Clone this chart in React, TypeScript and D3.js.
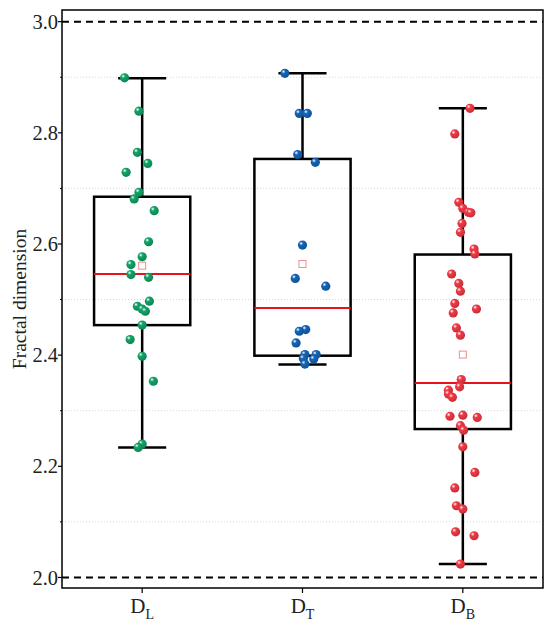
import React from 'react';
import * as d3 from 'd3';

// categories and colours
const categories = ['L', 'T', 'B'];
const dotColors = ['#12a468', '#1466b8', '#f23a46'];

// box statistics
const whiskerHigh = [2.898, 2.907, 2.844];
const q3 = [2.685, 2.753, 2.581];
const median = [2.546, 2.485, 2.350];
const mean = [2.561, 2.564, 2.401];
const q1 = [2.454, 2.399, 2.267];
const whiskerLow = [2.234, 2.383, 2.024];

// raw points (value + jitter as a fraction of the category step)
const valuesL = [2.899, 2.839, 2.765, 2.745, 2.729, 2.693, 2.681, 2.660, 2.604, 2.577, 2.563, 2.545,
  2.540, 2.497, 2.488, 2.483, 2.479, 2.454, 2.428, 2.398, 2.353, 2.240, 2.234];
const jitterL = [-0.11, -0.02, -0.03, 0.035, -0.10, -0.02, -0.05, 0.075, 0.04, 0, -0.07, -0.07,
  0.04, 0.045, -0.03, 0, 0.02, 0, -0.075, 0, 0.07, 0, -0.025];

const valuesT = [2.907, 2.835, 2.835, 2.761, 2.747, 2.598, 2.538, 2.524, 2.446, 2.443, 2.422, 2.401,
  2.401, 2.394, 2.393, 2.384];
const jitterT = [-0.11, -0.02, 0.03, -0.03, 0.08, 0, -0.045, 0.145, 0.02, -0.02, -0.04, 0.015,
  0.085, 0.005, 0.07, 0.015];

const valuesB = [2.844, 2.798, 2.675, 2.664, 2.657, 2.656, 2.637, 2.621, 2.591, 2.582, 2.546, 2.529,
  2.515, 2.493, 2.483, 2.476, 2.449, 2.436, 2.356, 2.343, 2.337, 2.330, 2.324, 2.292, 2.290, 2.288,
  2.273, 2.265, 2.235, 2.189, 2.161, 2.129, 2.123, 2.082, 2.075, 2.024];
const jitterB = [0.045, -0.05, -0.025, 0, 0.035, 0.05, -0.005, -0.015, 0.07, 0.075, -0.07, -0.025,
  -0.015, -0.05, 0.085, -0.06, -0.04, -0.015, -0.01, -0.02, -0.09, -0.09, -0.065, 0, -0.08, 0.09,
  -0.015, 0.005, 0, 0.075, -0.05, -0.04, 0, -0.045, 0.07, -0.015];

const allValues = [valuesL, valuesT, valuesB];
const allJitter = [jitterL, jitterT, jitterB];

const majorTicks = [2.0, 2.2, 2.4, 2.6, 2.8, 3.0];
const minorTicks = [2.1, 2.3, 2.5, 2.7, 2.9];
const refLines = [2.0, 3.0];

const width = 550;
const height = 630;
const margin = { top: 10, right: 7, bottom: 42, left: 62 };
const font = '"Liberation Serif", "Times New Roman", serif';

const x = d3.scaleBand<string>()
  .domain(categories)
  .range([margin.left, width - margin.right])
  .padding(0);

const y = d3.scaleLinear()
  .domain([1.981, 3.021])
  .range([height - margin.bottom, margin.top]);

const step = x.step();
const boxW = step * 0.6;
const capW = step * 0.3;

function App() {
  const cx = (c: string) => (x(c) as number) + step / 2;
  const plotBottom = height - margin.bottom;

  return (
    <svg width={width} height={height} style={{ position: 'absolute', left: 0, top: 0, background: '#fff' }}>
      <defs>
        {dotColors.map((c, i) => (
          <radialGradient key={i} id={`dot${i}`} cx="35%" cy="32%" r="70%">
            <stop offset="0%" stopColor="#ffffff" stopOpacity={0.9} />
            <stop offset="30%" stopColor={c} />
            <stop offset="100%" stopColor={d3.color(c)!.darker(0.6).toString()} />
          </radialGradient>
        ))}
      </defs>

      {/* minor gridlines */}
      {minorTicks.map(t => (
        <line key={t} x1={margin.left} x2={width - margin.right} y1={y(t)} y2={y(t)}
          stroke="#d8d8d8" strokeWidth={1} strokeDasharray="1,2" />
      ))}

      {/* reference dashed lines */}
      {refLines.map(t => (
        <line key={t} x1={margin.left} x2={width - margin.right} y1={y(t)} y2={y(t)}
          stroke="#000" strokeWidth={2} strokeDasharray="7,5" />
      ))}

      {/* boxes */}
      {categories.map((c, i) => {
        const m = cx(c);
        return (
          <g key={c} stroke="#000" strokeWidth={2.5} fill="none">
            <line x1={m} x2={m} y1={y(whiskerHigh[i])} y2={y(q3[i])} />
            <line x1={m} x2={m} y1={y(q1[i])} y2={y(whiskerLow[i])} />
            <line x1={m - capW / 2} x2={m + capW / 2} y1={y(whiskerHigh[i])} y2={y(whiskerHigh[i])} />
            <line x1={m - capW / 2} x2={m + capW / 2} y1={y(whiskerLow[i])} y2={y(whiskerLow[i])} />
            <rect x={m - boxW / 2} y={y(q3[i])} width={boxW} height={y(q1[i]) - y(q3[i])} />
            <line x1={m - boxW / 2} x2={m + boxW / 2} y1={y(median[i])} y2={y(median[i])}
              stroke="#e8121c" strokeWidth={2} />
            <rect x={m - 3.5} y={y(mean[i]) - 3.5} width={7} height={7}
              stroke="#ee8c8c" strokeWidth={1} fill="#fff" />
          </g>
        );
      })}

      {/* points */}
      {categories.map((c, i) => (
        <g key={c}>
          {allValues[i].map((v, j) => (
            <circle key={j} cx={cx(c) + allJitter[i][j] * step} cy={y(v)} r={4.6}
              fill={`url(#dot${i})`} />
          ))}
        </g>
      ))}

      {/* frame */}
      <rect x={margin.left} y={margin.top} width={width - margin.right - margin.left}
        height={plotBottom - margin.top} fill="none" stroke="#000" strokeWidth={1.5} />

      {/* y axis ticks */}
      {majorTicks.map(t => (
        <g key={t}>
          <line x1={margin.left - 4} x2={margin.left} y1={y(t)} y2={y(t)} stroke="#000" strokeWidth={1.2} />
          <text x={margin.left - 4} y={y(t)} dy="0.35em" textAnchor="end"
            fontFamily={font} fontSize={20.5} fill="#222">{d3.format('.1f')(t)}</text>
        </g>
      ))}
      {minorTicks.map(t => (
        <line key={t} x1={margin.left - 2} x2={margin.left} y1={y(t)} y2={y(t)} stroke="#000" strokeWidth={1} />
      ))}

      {/* x axis ticks and labels */}
      {categories.map(c => (
        <g key={c}>
          <line x1={cx(c)} x2={cx(c)} y1={plotBottom} y2={plotBottom + 5} stroke="#000" strokeWidth={1.2} />
          <text x={cx(c)} y={plotBottom + 25} textAnchor="middle" fontFamily={font} fontSize={21} fill="#222">
            <tspan>D</tspan>
            <tspan dy={6} fontSize={14}>{c}</tspan>
          </text>
        </g>
      ))}

      {/* y axis title */}
      <text transform={`translate(26,${(margin.top + plotBottom) / 2}) rotate(-90)`} textAnchor="middle"
        fontFamily={font} fontSize={19.5} fill="#222">Fractal dimension</text>
    </svg>
  );
}

export default App;
